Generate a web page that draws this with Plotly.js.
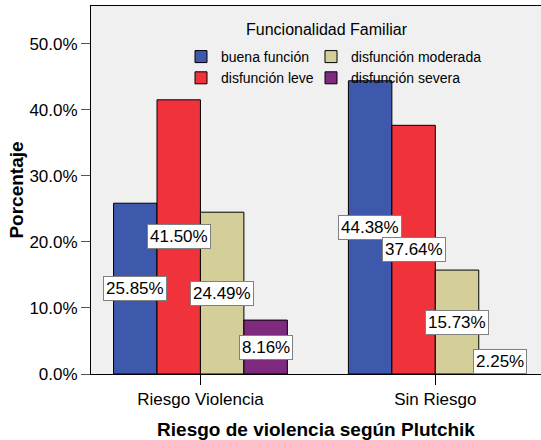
<!DOCTYPE html>
<html>
<head>
<meta charset="utf-8">
<script src="https://cdn.plot.ly/plotly-3.0.1.min.js"></script>
<style>html,body{margin:0;padding:0;background:#fff;}#chart{width:541px;height:440px;}</style>
</head>
<body>
<div id="chart"></div>
<script>
var categories = ['Riesgo Violencia', 'Sin Riesgo'];
var seriesNames = ['buena función', 'disfunción leve', 'disfunción moderada', 'disfunción severa'];
var buenaFuncion = [25.85, 44.38];
var disfuncionLeve = [41.50, 37.64];
var disfuncionModerada = [24.49, 15.73];
var disfuncionSevera = [8.16, 2.25];
var yTickValues = [0, 10, 20, 30, 40, 50];

var seriesValues = [buenaFuncion, disfuncionLeve, disfuncionModerada, disfuncionSevera];
var colors = ['#3e58ac', '#f0323b', '#d4cf98', '#7e2a7e'];
var legendIds = ['legend', 'legend', 'legend2', 'legend2'];

var bargap = 0.26;
var nSeries = seriesValues.length;
var barW = (1 - bargap) / nSeries;

var traces = seriesValues.map(function (vals, j) {
  return {
    type: 'bar',
    name: seriesNames[j],
    x: categories,
    y: vals,
    legend: legendIds[j],
    marker: {color: colors[j], line: {color: '#000', width: 1}},
    hoverinfo: 'skip'
  };
});

var annotations = [];
seriesValues.forEach(function (vals, j) {
  vals.forEach(function (v, i) {
    annotations.push({
      x: i + (j - (nSeries - 1) / 2) * barW,
      y: Math.max(v / 2, 1.9),
      xref: 'x', yref: 'y',
      text: v.toFixed(2) + '%',
      showarrow: false,
      bgcolor: '#ffffff',
      bordercolor: '#808080',
      borderwidth: 1,
      borderpad: 2,
      font: {family: 'Liberation Sans, Arial, sans-serif', size: 17, color: '#000'}
    });
  });
});
annotations.push({
  xref: 'paper', yref: 'paper',
  x: (327 - 91) / 450, y: (374 - 29) / 368,
  text: 'Funcionalidad Familiar',
  showarrow: false,
  xanchor: 'center', yanchor: 'middle',
  font: {family: 'Liberation Sans, Arial, sans-serif', size: 16, color: '#000'}
});

var legendCommon = {
  orientation: 'v',
  bgcolor: 'rgba(0,0,0,0)',
  borderwidth: 0,
  indentation: -12,
  xanchor: 'left', yanchor: 'top',
  y: (374 - 41) / 368,
  font: {family: 'Liberation Sans, Arial, sans-serif', size: 14, color: '#000'},
  itemclick: false, itemdoubleclick: false
};

var layout = {
  width: 541, height: 440,
  margin: {l: 91, r: 0, t: 6, b: 66},
  paper_bgcolor: '#ffffff',
  plot_bgcolor: '#f0f0f0',
  barmode: 'group',
  bargap: bargap,
  bargroupgap: 0,
  font: {family: 'Liberation Sans, Arial, sans-serif', color: '#000'},
  xaxis: {
    type: 'category',
    range: [-0.466, 1.45],
    showline: true, linecolor: '#000', linewidth: 1, mirror: true,
    ticks: 'outside', ticklen: 10, tickcolor: '#000',
    tickfont: {size: 17, color: '#000'},
    title: {text: 'Riesgo de violencia según Plutchik', font: {size: 19, color: '#000', weight: 'bold'}, standoff: 14},
    showgrid: false, zeroline: false, fixedrange: true
  },
  yaxis: {
    range: [0, 55.7],
    tickvals: yTickValues,
    ticktext: yTickValues.map(function (t) { return t.toFixed(1) + '%'; }),
    showline: true, linecolor: '#000', linewidth: 1,
    ticks: 'outside', ticklen: 9, tickcolor: '#555',
    tickfont: {size: 17, color: '#000'},
    title: {text: 'Porcentaje', font: {size: 19, color: '#000', weight: 'bold'}, standoff: 0},
    showgrid: false, zeroline: false, fixedrange: true
  },
  legend: Object.assign({}, legendCommon, {x: (193 - 91) / 450}),
  legend2: Object.assign({}, legendCommon, {x: (323 - 91) / 450}),
  annotations: annotations,
  showlegend: true
};

Plotly.newPlot('chart', traces, layout, {displayModeBar: false, staticPlot: true});
</script>
</body>
</html>
